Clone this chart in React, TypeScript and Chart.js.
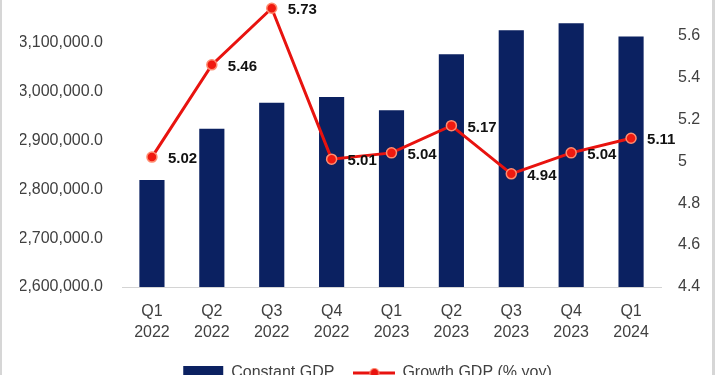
import React, { useEffect, useRef } from "react";
import { Chart, registerables } from "chart.js";

Chart.register(...registerables);

const categories: string[][] = [
  ["Q1", "2022"], ["Q2", "2022"], ["Q3", "2022"], ["Q4", "2022"],
  ["Q1", "2023"], ["Q2", "2023"], ["Q3", "2023"], ["Q4", "2023"], ["Q1", "2024"],
];
const constantGdp: number[] = [
  2818812, 2923663, 2976848, 2988632, 2961225, 3075822, 3124860, 3139143, 3112346,
];
const growthGdp: number[] = [5.02, 5.46, 5.73, 5.01, 5.04, 5.17, 4.94, 5.04, 5.11];
const seriesNames: string[] = ["Constant GDP", "Growth GDP (% yoy)"];

const NAVY = "#0b2161";
const RED = "#e8130f";
const FONT = "'Liberation Sans', Arial, sans-serif";

export default function App() {
  const ref = useRef<HTMLCanvasElement | null>(null);

  useEffect(() => {
    const canvas = ref.current;
    if (!canvas) return;

    const lineImg = document.createElement("canvas");
    lineImg.width = 42;
    lineImg.height = 12;
    const lc = lineImg.getContext("2d")!;
    lc.strokeStyle = RED;
    lc.lineWidth = 3;
    lc.beginPath();
    lc.moveTo(0, 6);
    lc.lineTo(42, 6);
    lc.stroke();
    lc.beginPath();
    lc.arc(21, 6, 4.5, 0, Math.PI * 2);
    lc.fillStyle = RED;
    lc.fill();
    lc.lineWidth = 1.2;
    lc.strokeStyle = "#ff8c70";
    lc.stroke();

    const labelPlugin = {
      id: "growthLabels",
      afterDatasetsDraw(chart: any) {
        const meta = chart.getDatasetMeta(1);
        const ctx = chart.ctx;
        ctx.save();
        ctx.font = `bold 15px ${FONT}`;
        ctx.fillStyle = "#111111";
        ctx.textAlign = "left";
        ctx.textBaseline = "middle";
        meta.data.forEach((pt: any, i: number) => {
          ctx.fillText(growthGdp[i].toFixed(2), pt.x + 16, pt.y + 2);
        });
        ctx.restore();
      },
    };

    const chart = new Chart(canvas, {
      type: "bar",
      data: {
        labels: categories,
        datasets: [
          {
            type: "bar",
            label: seriesNames[0],
            data: constantGdp,
            backgroundColor: NAVY,
            borderWidth: 0,
            barPercentage: 0.42,
            categoryPercentage: 1,
            yAxisID: "y",
            order: 2,
          },
          {
            type: "line",
            label: seriesNames[1],
            data: growthGdp,
            borderColor: RED,
            borderWidth: 3,
            backgroundColor: RED,
            pointBackgroundColor: "#f01a10",
            pointBorderColor: "#ff8c70",
            pointBorderWidth: 1.5,
            pointRadius: 5,
            tension: 0,
            yAxisID: "y1",
            order: 1,
          } as any,
        ],
      },
      options: {
        responsive: false,
        animation: false,
        layout: { padding: { top: 24, left: 20, right: 0, bottom: 0 } },
        plugins: {
          tooltip: { enabled: false },
          legend: {
            position: "bottom",
            labels: {
              usePointStyle: true,
              pointStyleWidth: 40,
              boxWidth: 40,
              boxHeight: 14,
              padding: 20,
              color: "#404040",
              font: { family: FONT, size: 16 },
              generateLabels: () => [
                {
                  text: seriesNames[0],
                  fillStyle: NAVY,
                  strokeStyle: NAVY,
                  lineWidth: 0,
                  pointStyle: "rect",
                  hidden: false,
                  datasetIndex: 0,
                  fontColor: "#404040",
                } as any,
                {
                  text: seriesNames[1],
                  fillStyle: RED,
                  strokeStyle: RED,
                  lineWidth: 0,
                  pointStyle: lineImg,
                  hidden: false,
                  datasetIndex: 1,
                  fontColor: "#404040",
                } as any,
              ],
            },
          },
        },
        scales: {
          x: {
            grid: { display: false, drawTicks: false },
            border: { display: true, color: "#d4d4d4", width: 1 },
            ticks: {
              padding: 14,
              color: "#404040",
              font: { family: FONT, size: 16, lineHeight: 1.3 },
              maxRotation: 0,
              autoSkip: false,
            },
            afterFit: (s: any) => {
              s.height = 58;
            },
          },
          y: {
            position: "left",
            min: 2600000,
            max: 3200000,
            grid: { display: false, drawTicks: false },
            border: { display: false },
            ticks: {
              stepSize: 100000,
              padding: 19,
              color: "#404040",
              font: { family: FONT, size: 16 },
              callback: (v: any) =>
                Number(v).toLocaleString("en-US", {
                  minimumFractionDigits: 1,
                  maximumFractionDigits: 1,
                }),
            },
            afterFit: (s: any) => {
              s.width = 102;
            },
          },
          y1: {
            position: "right",
            min: 4.4,
            max: 5.8,
            grid: { display: false, drawTicks: false },
            border: { display: false },
            ticks: {
              stepSize: 0.2,
              padding: 17,
              color: "#404040",
              font: { family: FONT, size: 16 },
              callback: (v: any) => String(Math.round(Number(v) * 10) / 10),
            },
            afterFit: (s: any) => {
              s.width = 54;
            },
          },
        },
      },
      plugins: [labelPlugin],
    } as any);

    return () => chart.destroy();
  }, []);

  return (
    <div
      style={{
        position: "fixed",
        left: 0,
        top: 0,
        width: 715,
        height: 375,
        overflow: "hidden",
        background: "#ffffff",
      }}
    >
      <canvas
        ref={ref}
        width={715}
        height={426}
        style={{ position: "absolute", left: 0, top: -35, width: 715, height: 426 }}
      />
      <div
        style={{
          position: "absolute",
          left: 0,
          top: 0,
          width: 2,
          height: 375,
          background: "#d6d6d6",
        }}
      />
      <div
        style={{
          position: "absolute",
          right: 0,
          top: 0,
          width: 3,
          height: 375,
          background: "#d6d6d6",
        }}
      />
    </div>
  );
}
